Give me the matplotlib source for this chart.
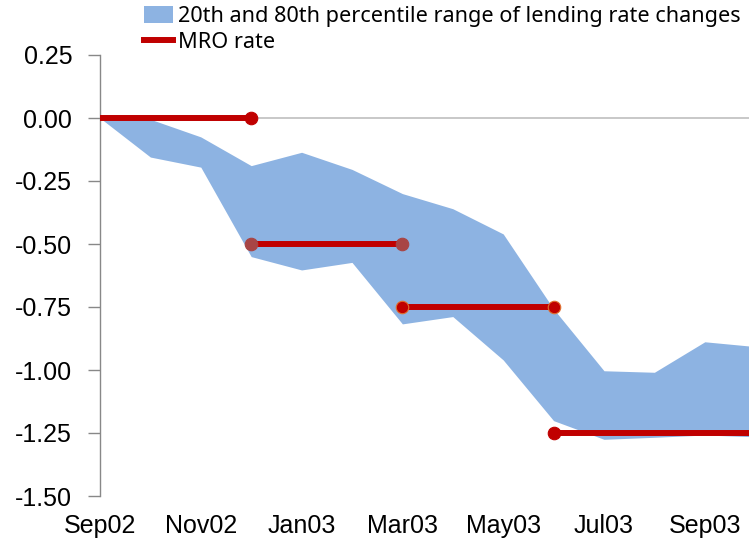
import matplotlib
matplotlib.use("Agg")
import matplotlib.pyplot as plt
from matplotlib.patches import Patch
from matplotlib.lines import Line2D

# monthly x positions, Sep02 .. Oct03
months = ["Sep02", "Oct02", "Nov02", "Dec02", "Jan03", "Feb03", "Mar03",
          "Apr03", "May03", "Jun03", "Jul03", "Aug03", "Sep03", "Oct03"]
tick_labels = ["Sep02", "Nov02", "Jan03", "Mar03", "May03", "Jul03", "Sep03"]

# 80th percentile (upper) and 20th percentile (lower) of lending rate changes
upper = [0.00, -0.005, -0.075, -0.189, -0.136, -0.204, -0.300,
         -0.360, -0.460, -0.758, -1.003, -1.009, -0.888, -0.907]
lower = [0.00, -0.155, -0.195, -0.550, -0.603, -0.573, -0.817,
         -0.788, -0.960, -1.201, -1.275, -1.267, -1.258, -1.265]

# MRO rate change steps: start month, end month, level
mro_start = ["Sep02", "Dec02", "Mar03", "Jun03"]
mro_end = ["Dec02", "Mar03", "Jun03", "Oct03"]
mro_value = [0.00, -0.50, -0.75, -1.25]

fig = plt.figure(figsize=(7.49, 5.40), dpi=100)
ax = fig.add_axes([100 / 749, 44 / 540, 649 / 749, 441 / 540])

x = list(range(len(months)))
ax.fill_between(x, lower, upper, color="#8DB3E2", linewidth=0, zorder=1)

red = "#C00000"
marker_cols = ["#C00000", "#A84545", "#C00000", "#C00000"]
for s, e, v, mc in zip(mro_start, mro_end, mro_value, marker_cols):
    i0, i1 = months.index(s), months.index(e)
    ax.plot([i0, i1], [v, v], color=red, lw=4.3, solid_capstyle="butt", zorder=3)
    pts = [i for i in (i0, i1) if i != 0]
    ax.plot(pts, [v] * len(pts), "o", color=mc, ms=9, mec="#E07030" if v == -0.75 else mc,
            mew=0.8, zorder=4)

ax.axhline(0, color="#BFBFBF", lw=1.2, zorder=0)

yticks = [0.25, 0.0, -0.25, -0.5, -0.75, -1.0, -1.25, -1.5]
ax.set_xlim(0, 649 / 50.4)
ax.set_ylim(-1.5, 0.25)
ax.set_yticks(yticks)
ax.set_yticklabels([f"{v:.2f}" for v in yticks], fontsize=18, family="Liberation Sans")
ax.tick_params(axis="y", length=9, width=1, color="#888888", pad=11, direction="out")

ax.set_xticks([months.index(m) for m in tick_labels])
ax.set_xticklabels(tick_labels, fontsize=18, family="Liberation Sans")
ax.tick_params(axis="x", length=0, pad=13)

for side in ["top", "right", "bottom"]:
    ax.spines[side].set_visible(False)
ax.spines["left"].set_color("#888888")
ax.spines["left"].set_linewidth(1)

handles = [Patch(facecolor="#8DB3E2", edgecolor="none"),
           Line2D([0], [0], color=red, lw=4.3)]
labels = ["20th and 80th percentile range of lending rate changes", "MRO rate"]
fig.legend(handles, labels, loc="upper left", bbox_to_anchor=(131 / 749, 1.013),
           frameon=False, prop={"family": "Noto Sans", "size": 15.6},
           handlelength=1.35, handletextpad=0.22, labelspacing=0.25,
           borderaxespad=0.2, handleheight=0.8)

fig.savefig("out.png", dpi=100)
